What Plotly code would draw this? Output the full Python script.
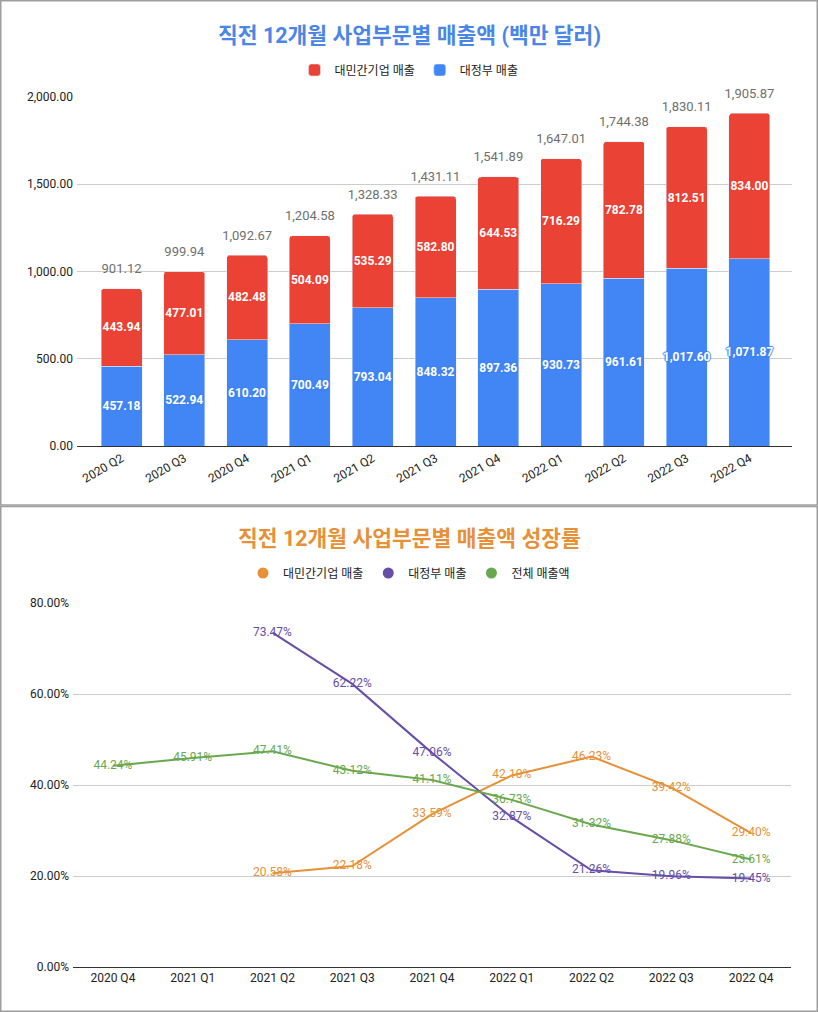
import plotly.graph_objects as go

W, H = 818, 1012

# ---------------- data ----------------
quarters_top = ["2020 Q2", "2020 Q3", "2020 Q4", "2021 Q1", "2021 Q2", "2021 Q3",
                "2021 Q4", "2022 Q1", "2022 Q2", "2022 Q3", "2022 Q4"]
private_sales = [443.94, 477.01, 482.48, 504.09, 535.29, 582.80, 644.53, 716.29, 782.78, 812.51, 834.00]
gov_sales = [457.18, 522.94, 610.20, 700.49, 793.04, 848.32, 897.36, 930.73, 961.61, 1017.60, 1071.87]
total_sales = [901.12, 999.94, 1092.67, 1204.58, 1328.33, 1431.11, 1541.89, 1647.01, 1744.38, 1830.11, 1905.87]

quarters_growth = ["2020 Q4", "2021 Q1", "2021 Q2", "2021 Q3", "2021 Q4",
                   "2022 Q1", "2022 Q2", "2022 Q3", "2022 Q4"]
private_growth = [None, None, 20.58, 22.18, 33.59, 42.10, 46.23, 39.42, 29.40]
gov_growth = [None, None, 73.47, 62.22, 47.06, 32.87, 21.26, 19.96, 19.45]
total_growth = [44.24, 45.91, 47.41, 43.12, 41.11, 36.73, 31.32, 27.88, 23.61]

title_top = "직전 12개월 사업부문별 매출액 (백만 달러)"
title_bottom = "직전 12개월 사업부문별 매출액 성장률"
name_private = "대민간기업 매출"
name_gov = "대정부 매출"
name_total = "전체 매출액"

# ---------------- style ----------------
FONT = "Roboto, 'Noto Sans CJK KR', sans-serif"
RED, BLUE = "#ea4335", "#4285f4"
ORANGE, PURPLE, GREEN = "#e69138", "#674ea7", "#6aa84f"
TXT = "#222222"


def fx(p):
    return p / W


def fy(p):
    return 1 - p / H


def halo(c):
    return f"-1px 0 1px {c}, 1px 0 1px {c}, 0 -1px 1px {c}, 0 1px 1px {c}"


fig = go.Figure()

# top chart: stacked bars
fig.add_trace(go.Bar(
    x=quarters_top, y=gov_sales, name=name_gov, marker_color=BLUE,
    texttemplate="%{y:,.2f}", textposition="inside", insidetextanchor="middle",
    textangle=0, constraintext="none",
    textfont=dict(color="white", size=12, family=FONT, weight="bold", shadow=halo(BLUE)),
    xaxis="x", yaxis="y", legend="legend", hoverinfo="skip"))
fig.add_trace(go.Bar(
    x=quarters_top, y=private_sales, name=name_private, marker_color=RED,
    texttemplate="%{y:,.2f}", textposition="inside", insidetextanchor="middle",
    textangle=0, constraintext="none",
    textfont=dict(color="white", size=12, family=FONT, weight="bold", shadow=halo(RED)),
    xaxis="x", yaxis="y", legend="legend", hoverinfo="skip"))
fig.add_trace(go.Scatter(
    x=quarters_top, y=total_sales, mode="markers+text", texttemplate="%{y:,.2f}",
    marker=dict(size=18, color="rgba(0,0,0,0)"),
    textposition="top center", textfont=dict(color="#6f6f6f", size=13, family=FONT),
    cliponaxis=False, showlegend=False, xaxis="x", yaxis="y", hoverinfo="skip"))

# bottom chart: growth lines
for name, vals, col in [(name_private, private_growth, ORANGE),
                        (name_gov, gov_growth, PURPLE),
                        (name_total, total_growth, GREEN)]:
    fig.add_trace(go.Scatter(
        x=quarters_growth, y=vals, mode="lines+text", name=name,
        line=dict(color=col, width=2), texttemplate="%{y:.2f}%",
        textposition="middle center", textfont=dict(color=col, size=12, family=FONT),
        cliponaxis=False, showlegend=False, xaxis="x2", yaxis="y2", hoverinfo="skip"))
for name, col in [(name_private, ORANGE), (name_gov, PURPLE), (name_total, GREEN)]:
    fig.add_trace(go.Scatter(
        x=[None], y=[None], mode="markers", name=name,
        marker=dict(color=col, size=11, symbol="circle"),
        xaxis="x2", yaxis="y2", legend="legend2", showlegend=True))

axis_common = dict(tickfont=dict(size=12, color=TXT, family=FONT), automargin=False)

fig.update_layout(
    width=W, height=H, margin=dict(l=0, r=0, t=0, b=0),
    paper_bgcolor="white", plot_bgcolor="white",
    font=dict(family=FONT, color=TXT, size=12),
    barmode="stack", bargap=0.347, barcornerradius=3,
    xaxis=dict(domain=[fx(77), fx(792)], anchor="y", type="category",
               range=[-0.709, 10.677], tickangle=-30, showgrid=False,
               showline=True, linecolor="#333333", linewidth=1, ticks="",
               **axis_common),
    yaxis=dict(domain=[fy(446), fy(97)], anchor="x", range=[0, 2000], dtick=500,
               tickformat=",.2f", gridcolor="#cccccc", zeroline=False,
               showline=False, ticks="", ticklabelstandoff=3, **axis_common),
    xaxis2=dict(domain=[fx(73), fx(791)], anchor="y2", type="category",
                range=[-0.5, 8.5], showgrid=False, showline=True,
                linecolor="#333333", linewidth=1, ticks="", **axis_common),
    yaxis2=dict(domain=[fy(967), fy(603)], anchor="x2", range=[0, 80], dtick=20,
                tickformat=".2f", ticksuffix="%", gridcolor="#cccccc",
                zeroline=False, showline=False, ticks="", ticklabelstandoff=3,
                **axis_common),
    legend=dict(orientation="h", x=0.5, xanchor="center", y=fy(70), yanchor="middle",
                traceorder="reversed",
                font=dict(size=12, color=TXT, family=FONT), bgcolor="rgba(0,0,0,0)"),
    legend2=dict(orientation="h", x=0.5, xanchor="center", y=fy(573), yanchor="middle",
                 font=dict(size=12, color=TXT, family=FONT), bgcolor="rgba(0,0,0,0)"),
    annotations=[
        dict(text=title_top, x=0.5, y=fy(35), xref="paper", yref="paper",
             xanchor="center", yanchor="middle", showarrow=False,
             font=dict(size=21.5, color="#4a86e8", family=FONT, weight="bold")),
        dict(text=title_bottom, x=0.5, y=fy(538), xref="paper", yref="paper",
             xanchor="center", yanchor="middle", showarrow=False,
             font=dict(size=21.5, color=ORANGE, family=FONT, weight="bold")),
    ],
    shapes=[
        dict(type="rect", xref="paper", yref="paper", x0=fx(0.75), x1=fx(817.25),
             y0=fy(0.75), y1=fy(505), line=dict(color="#9e9e9e", width=1.5)),
        dict(type="rect", xref="paper", yref="paper", x0=fx(0.75), x1=fx(817.25),
             y0=fy(506.5), y1=fy(1011.25), line=dict(color="#9e9e9e", width=1.5)),
    ],
)

fig.write_html("out.html", config={"displayModeBar": False},
               post_script="document.body.style.margin='0';")
